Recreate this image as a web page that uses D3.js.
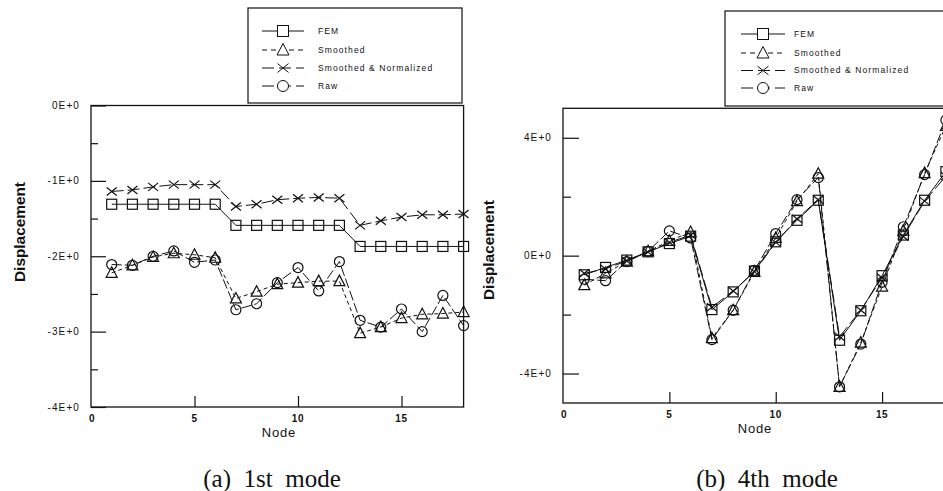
<!DOCTYPE html>
<html><head><meta charset="utf-8">
<script src="https://cdn.jsdelivr.net/npm/d3@7"></script>
<style>
body{margin:0;background:#fff;}
svg{display:block;font-family:"Liberation Sans",Arial,sans-serif;}
</style></head>
<body><svg id="chart" width="943" height="491"></svg>
<script>
// ---- data ----
const nodes = [1,2,3,4,5,6,7,8,9,10,11,12,13,14,15,16,17,18];
const seriesNames = ["FEM","Smoothed","Smoothed & Normalized","Raw"];
const xTicks = [0,5,10,15];
const xTickLabels = ["0","5","10","15"];
const captions = ["(a)  1st  mode","(b)  4th  mode"];
const axisXTitle = "Node";
const axisYTitle = "Displacement";

const mode1YTicks = [0,-1,-2,-3,-4];
const mode1YTickLabels = ["0E+0","-1E+0","-2E+0","-3E+0","-4E+0"];
const mode1Fem = [-1.31,-1.31,-1.31,-1.31,-1.31,-1.31,-1.59,-1.59,-1.59,-1.59,-1.59,-1.59,-1.87,-1.87,-1.87,-1.87,-1.87,-1.87];
const mode1Smoothed = [-2.22,-2.12,-2.01,-1.96,-1.98,-2.02,-2.56,-2.47,-2.37,-2.35,-2.33,-2.33,-3.02,-2.94,-2.82,-2.77,-2.76,-2.74];
const mode1Normalized = [-1.14,-1.12,-1.08,-1.05,-1.05,-1.05,-1.34,-1.31,-1.25,-1.23,-1.22,-1.23,-1.59,-1.53,-1.48,-1.45,-1.45,-1.44];
const mode1Raw = [-2.11,-2.12,-2.00,-1.93,-2.08,-2.05,-2.71,-2.63,-2.35,-2.15,-2.46,-2.07,-2.85,-2.94,-2.70,-3.00,-2.52,-2.92];

const mode4YTicks = [4,0,-4];
const mode4YTickLabels = ["4E+0","0E+0","-4E+0"];
const mode4Fem = [-0.65,-0.40,-0.15,0.13,0.41,0.66,-1.83,-1.23,-0.52,0.47,1.20,1.88,-2.87,-1.87,-0.68,0.70,1.88,2.85];
const mode4Smoothed = [-1.00,-0.60,-0.20,0.15,0.50,0.80,-2.80,-1.85,-0.55,0.60,1.85,2.78,-4.45,-2.95,-1.05,0.85,2.80,4.40];
const mode4Normalized = [-0.60,-0.45,-0.18,0.12,0.45,0.70,-1.75,-1.20,-0.55,0.45,1.25,1.90,-2.75,-1.85,-0.75,0.65,1.85,2.70];
const mode4Raw = [-0.80,-0.85,-0.20,0.15,0.84,0.60,-2.85,-1.85,-0.50,0.75,1.90,2.65,-4.45,-3.00,-0.90,0.98,2.75,4.60];

// ---- styles ----
const dashes = [null,"4,3","12,4","10,3"];
const legendDashes = [null,"5,4","12,5","12,5"];
const markerKinds = ["square","triangle","cross","circle"];
const svg = d3.select("#chart");

function drawMarker(g, kind, x, y, s){
  const h = s/2;
  if(kind==="square"){
    g.append("rect").attr("x",x-h).attr("y",y-h).attr("width",s).attr("height",s);
  } else if(kind==="triangle"){
    g.append("path").attr("d",`M${x},${y-h-1}L${x+h+0.5},${y+h-0.5}L${x-h-0.5},${y+h-0.5}Z`);
  } else if(kind==="cross"){
    g.append("path").attr("d",`M${x-h},${y-h*0.8}L${x+h},${y+h*0.8}M${x-h},${y+h*0.8}L${x+h},${y-h*0.8}`);
  } else {
    g.append("circle").attr("cx",x).attr("cy",y).attr("r",h);
  }
}

function panel(cfg){
  const x = d3.scaleLinear().domain([0,18]).range(cfg.xr);
  const y = d3.scaleLinear().domain(cfg.yd).range(cfg.yr);
  const g = svg.append("g");
  // legend box (drawn first, frame overlaps its bottom)
  const L = cfg.legend;
  g.append("rect").attr("x",L.x0).attr("y",L.y0).attr("width",L.x1-L.x0).attr("height",L.y1-L.y0)
    .attr("fill","#fff").attr("stroke","#111").attr("stroke-width",1.2);
  seriesNames.forEach((name,k)=>{
    const yy = L.rows[k];
    g.append("line").attr("x1",L.lx0).attr("x2",L.lx1).attr("y1",yy).attr("y2",yy)
      .attr("stroke","#111").attr("stroke-width",1).attr("stroke-dasharray",legendDashes[k]);
    const mg = g.append("g").attr("fill","#fff").attr("stroke","#111").attr("stroke-width",1);
    drawMarker(mg, markerKinds[k], (L.lx0+L.lx1)/2, yy, L.ms);
    g.append("text").attr("x",L.tx).attr("y",yy).attr("dy","0.35em")
      .attr("font-size",8.5).attr("letter-spacing",1.1).attr("fill","#111").text(name);
  });
  // frame
  g.append("rect").attr("x",cfg.xr[0]).attr("y",cfg.yr[1])
    .attr("width",Math.min(cfg.xr[1],960)-cfg.xr[0]).attr("height",cfg.yr[0]-cfg.yr[1])
    .attr("fill","none").attr("stroke","#111").attr("stroke-width",1.3);
  // y axis (ticks inward)
  const yAxis = d3.axisRight(y).tickValues(cfg.yTicks).tickSize(cfg.majorLen).tickFormat("");
  const ya = g.append("g").attr("transform",`translate(${cfg.xr[0]},0)`).call(yAxis);
  ya.select(".domain").remove();
  ya.selectAll("line").attr("stroke","#111").attr("stroke-width",1.2);
  const yMinor = d3.axisRight(y).tickValues(cfg.yMinor).tickSize(cfg.minorLen).tickFormat("");
  const ym = g.append("g").attr("transform",`translate(${cfg.xr[0]},0)`).call(yMinor);
  ym.select(".domain").remove();
  ym.selectAll("line").attr("stroke","#111").attr("stroke-width",1.2);
  g.selectAll(".ylab").data(cfg.yTicks).enter().append("text")
    .attr("x",cfg.xr[0]-11).attr("y",d=>y(d)).attr("dy","0.35em")
    .attr("text-anchor","end").attr("font-size",10).attr("letter-spacing",1.1)
    .attr("fill","#111").text((d,i)=>cfg.yLabels[i]);
  // x axis
  const xAxis = d3.axisTop(x).tickValues(xTicks.filter(d=>d>0)).tickSize(11).tickFormat("");
  const xa = g.append("g").attr("transform",`translate(0,${cfg.yr[0]})`).call(xAxis);
  xa.select(".domain").remove();
  xa.selectAll("line").attr("stroke","#111").attr("stroke-width",1.2);
  g.selectAll(".xlab").data(xTicks).enter().append("text")
    .attr("x",d=>x(d)+(d===0?1:0)).attr("y",cfg.yr[0]+15)
    .attr("text-anchor","middle").attr("font-size",10).attr("font-weight","bold").attr("letter-spacing",0.6)
    .attr("fill","#111").text((d,i)=>xTickLabels[i]);
  g.append("text").attr("x",cfg.nodeX).attr("y",cfg.yr[0]+30)
    .attr("text-anchor","middle").attr("font-size",13).attr("letter-spacing",0.8).attr("fill","#111")
    .text(axisXTitle);
  g.append("text").attr("transform",`translate(${cfg.dispX},${cfg.dispY}) rotate(-90)`)
    .attr("text-anchor","middle").attr("font-size",14).attr("font-weight","bold")
    .attr("textLength",100).attr("lengthAdjust","spacingAndGlyphs").attr("fill","#111")
    .text(axisYTitle);
  // series
  const line = d3.line().x((d,i)=>x(nodes[i])).y(d=>y(d));
  cfg.series.forEach((vals,k)=>{
    g.append("path").datum(vals).attr("d",line).attr("fill","none")
      .attr("stroke","#111").attr("stroke-width",1)
      .attr("stroke-dasharray",dashes[k]);
    const mg = g.append("g").attr("fill","none").attr("stroke","#111").attr("stroke-width",1.2);
    vals.forEach((v,i)=>drawMarker(mg, markerKinds[k], x(nodes[i]), y(v), cfg.ms));
  });
  // caption
  svg.append("text").attr("x",cfg.capX).attr("y",487).attr("text-anchor","middle")
    .attr("font-family","'Liberation Serif','Times New Roman',serif").attr("font-size",25)
    .attr("fill","#111").style("white-space","pre").text(cfg.caption);
}

panel({
  xr:[91,463.6], yd:[-4,0], yr:[407,105.5],
  yTicks:mode1YTicks, yLabels:mode1YTickLabels, yMinor:[-0.5,-1.5,-2.5,-3.5],
  majorLen:15, minorLen:7, ms:10,
  series:[mode1Fem,mode1Smoothed,mode1Normalized,mode1Raw],
  nodeX:279, dispX:25, dispY:232,
  legend:{x0:248,x1:462,y0:8,y1:103,lx0:262,lx1:304,tx:318,rows:[31,50,68,86],ms:11},
  caption:captions[0], capX:272
});
panel({
  xr:[563,945.9], yd:[-5,5], yr:[403,108.3],
  yTicks:mode4YTicks, yLabels:mode4YTickLabels, yMinor:[2,-2],
  majorLen:16, minorLen:8, ms:10,
  series:[mode4Fem,mode4Smoothed,mode4Normalized,mode4Raw],
  nodeX:755, dispX:494, dispY:250,
  legend:{x0:725,x1:960,y0:11,y1:106,lx0:741,lx1:785,tx:794,rows:[34,53,70.5,88],ms:11},
  caption:captions[1], capX:767
});
</script></body></html>
